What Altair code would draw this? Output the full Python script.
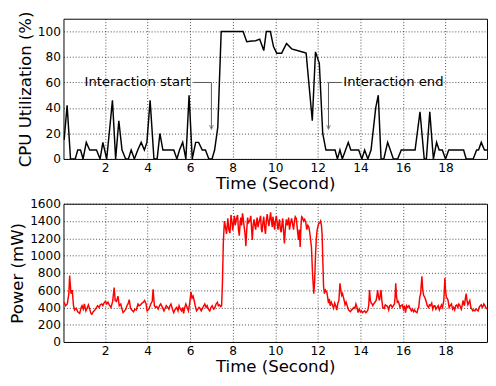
import altair as alt
import pandas as pd

# ---------------- data ----------------
cpu_t = [0.08, 0.22, 0.38, 0.6, 0.72, 0.85, 0.97, 1.12, 1.28, 1.6, 1.77, 1.9, 2.08,
         2.35, 2.5, 2.65, 2.8, 2.97, 3.1, 3.23, 3.38, 3.54, 3.7, 3.85, 3.97, 4.12,
         4.3, 4.45, 4.58, 4.72, 5.23, 5.38, 5.5, 5.65, 5.8, 5.95, 6.1, 6.26, 6.4,
         6.57, 6.72, 6.88, 7.03, 7.15, 7.3, 7.46, 8.49, 8.66, 8.9, 9.08, 9.27, 9.46,
         9.58, 9.77, 9.92, 10.07, 10.3, 10.53, 10.77, 11.2, 11.45, 11.74, 11.89,
         12.07, 12.23, 12.38, 12.81, 12.92, 13.04, 13.15, 13.43, 13.55, 13.92,
         14.07, 14.2, 14.35, 14.5, 14.72, 14.84, 14.97, 15.1, 15.28, 15.55, 15.75,
         15.92, 16.57, 16.8, 17.0, 17.1, 17.26, 17.43, 17.58, 17.7, 17.85, 18.0,
         18.15, 18.85, 18.97, 19.3, 19.46, 19.55, 19.68, 19.83, 19.95]
cpu_v = [15, 42, 0, 0, 7, 7, 0, 13, 7, 7, 0, 13, 0,
         46, 0, 30, 7, 0, 0, 7, 0, 7, 13, 7, 13, 46,
         0, 0, 20, 7, 7, 0, 7, 13, 0, 50, 0, 13, 13,
         7, 7, 0, 0, 7, 25, 100, 100, 92, 92.5, 92.7, 94, 85,
         100, 100, 88, 83, 83, 90.6, 86.4, 84.3, 83, 30, 84,
         75, 20, 7, 7, 0, 7, 0, 13, 7, 7,
         0, 7, 0, 7, 40, 50, 0, 0, 13, 0, 0,
         7, 7, 37, 0, 0, 37, 0, 13, 7, 7, 0,
         7, 7, 0, 0, 7, 7, 13, 7, 7]

pw_t = [0.08, 0.15, 0.23, 0.3, 0.34, 0.4, 0.46, 0.52, 0.57, 0.65, 0.72, 0.81, 0.88, 0.92, 0.98,
        1.03, 1.1, 1.17, 1.22, 1.28, 1.34, 1.38, 1.45, 1.52, 1.58, 1.65, 1.72, 1.78, 1.85, 1.9,
        1.95, 2.02, 2.08, 2.14, 2.2, 2.28, 2.36, 2.43, 2.48, 2.54, 2.61, 2.67, 2.74, 2.8, 2.85,
        2.92, 2.98, 3.03, 3.08, 3.14, 3.2, 3.26, 3.34, 3.4, 3.47, 3.55, 3.6, 3.67, 3.74, 3.8,
        3.86, 3.93, 3.98, 4.06, 4.15, 4.22, 4.26, 4.32, 4.38, 4.43, 4.5, 4.56, 4.62, 4.7, 4.77,
        4.83, 4.88, 4.95, 5.0, 5.05, 5.1, 5.17, 5.23, 5.3, 5.37, 5.43, 5.48, 5.54, 5.6, 5.66,
        5.69, 5.75, 5.8, 5.86, 5.92, 5.98, 6.04, 6.09, 6.14, 6.19, 6.23, 6.3, 6.36, 6.42, 6.46,
        6.52, 6.6, 6.69, 6.75, 6.8, 6.86, 6.92, 6.98, 7.04, 7.1, 7.15, 7.22, 7.28, 7.33, 7.38,
        7.44, 7.48, 7.52, 7.56, 7.61, 7.66, 7.71, 7.77, 7.82, 7.87, 7.92, 7.97, 8.0, 8.05, 8.08,
        8.12, 8.17, 8.23, 8.27, 8.31, 8.35, 8.38, 8.42, 8.46, 8.5, 8.54, 8.58, 8.62, 8.66, 8.7,
        8.74, 8.8, 8.85, 8.89, 8.92, 8.96, 9.0, 9.04, 9.08, 9.12, 9.15, 9.19, 9.23, 9.27, 9.31,
        9.35, 9.38, 9.42, 9.46, 9.5, 9.54, 9.58, 9.62, 9.66, 9.7, 9.74, 9.78, 9.82, 9.86, 9.89,
        9.93, 9.97, 10.01, 10.05, 10.09, 10.13, 10.17, 10.2, 10.24, 10.28, 10.32, 10.35, 10.4,
        10.43, 10.47, 10.52, 10.57, 10.63, 10.67, 10.72, 10.77, 10.81, 10.86, 10.9, 10.94,
        10.99, 11.04, 11.09, 11.13, 11.17, 11.21, 11.24, 11.28, 11.33, 11.38, 11.43, 11.48,
        11.53, 11.58, 11.63, 11.7, 11.75, 11.81, 11.85, 11.89, 11.93, 11.97, 12.0, 12.04,
        12.09, 12.13, 12.17, 12.2, 12.24, 12.27, 12.31, 12.36, 12.43, 12.5, 12.54, 12.58,
        12.63, 12.68, 12.74, 12.79, 12.84, 12.89, 12.94, 12.99, 13.04, 13.08, 13.12, 13.16,
        13.2, 13.24, 13.28, 13.33, 13.38, 13.43, 13.48, 13.53, 13.58, 13.63, 13.68, 13.74,
        13.79, 13.84, 13.89, 13.94, 14.0, 14.05, 14.1, 14.15, 14.2, 14.25, 14.3, 14.35, 14.39,
        14.43, 14.47, 14.51, 14.55, 14.58, 14.63, 14.68, 14.74, 14.78, 14.81, 14.85, 14.9,
        14.94, 14.97, 15.01, 15.05, 15.12, 15.17, 15.22, 15.28, 15.33, 15.38, 15.43, 15.5,
        15.55, 15.6, 15.63, 15.66, 15.7, 15.74, 15.78, 15.81, 15.86, 15.9, 15.97, 16.02,
        16.07, 16.12, 16.17, 16.22, 16.28, 16.35, 16.4, 16.45, 16.5, 16.55, 16.6, 16.66, 16.7,
        16.74, 16.79, 16.83, 16.89, 16.93, 16.97, 17.02, 17.05, 17.1, 17.14, 17.2, 17.24,
        17.29, 17.35, 17.4, 17.46, 17.5, 17.55, 17.6, 17.66, 17.71, 17.76, 17.81, 17.86,
        17.92, 17.97, 18.0, 18.04, 18.09, 18.12, 18.17, 18.22, 18.28, 18.33, 18.38, 18.43,
        18.48, 18.53, 18.58, 18.63, 18.68, 18.74, 18.78, 18.82, 18.86, 18.89, 18.93, 18.97,
        19.01, 19.05, 19.1, 19.14, 19.19, 19.24, 19.28, 19.33, 19.38, 19.43, 19.48, 19.53,
        19.58, 19.63, 19.68, 19.72, 19.76, 19.8, 19.85, 19.89, 19.94]
pw_v = [460, 420, 440, 560, 770, 560, 600, 420, 370, 390, 350, 330, 400, 420, 380,
        440, 360, 400, 430, 380, 330, 320, 350, 370, 390, 420, 400, 430, 440, 420,
        450, 470, 440, 460, 430, 400, 470, 630, 480, 470, 530, 420, 440, 380, 340,
        360, 380, 420, 440, 490, 390, 370, 350, 380, 370, 440, 420, 430, 450, 460,
        480, 440, 360, 380, 440, 470, 610, 420, 400, 410, 380, 420, 440, 400, 360,
        390, 420, 400, 380, 420, 440, 380, 340, 380, 400, 360, 420, 380, 360, 400,
        330, 400, 440, 400, 360, 450, 580, 510, 530, 480, 430, 360, 380, 400, 390,
        360, 400, 440, 400, 420, 380, 360, 400, 420, 380, 390, 440, 460, 420, 430,
        410, 420, 700, 1150, 1400, 1330, 1250, 1430, 1300, 1260, 1470, 1380, 1290, 1400, 1460,
        1350, 1420, 1470, 1300, 1230, 1380, 1440, 1350, 1490, 1420, 1330, 1250, 1110, 1300, 1440,
        1380, 1400, 1460, 1300, 1180, 1350, 1420, 1350, 1300, 1400, 1440, 1330, 1380, 1420, 1460,
        1300, 1270, 1380, 1450, 1330, 1250, 1400, 1480, 1400, 1340, 1420, 1500, 1400, 1330, 1450,
        1380, 1300, 1400, 1460, 1380, 1300, 1380, 1420, 1300, 1270, 1380, 1430, 1250,
        1140, 1300, 1420, 1350, 1440, 1300, 1380, 1430, 1370, 1300, 1400, 1450,
        1430, 1300, 1180, 1300, 1100, 1350, 1450, 1440, 1400, 1420, 1390, 1300,
        1350, 1330, 1250, 1100, 800, 560, 700, 1000, 1200, 1300, 1330, 1370,
        1380, 1400, 1350, 1250, 900, 640, 560, 600, 570, 450, 500, 420,
        460, 430, 390, 450, 420, 370, 450, 480, 680, 600, 540, 560,
        520, 480, 430, 460, 420, 380, 360, 350, 370, 380, 400, 390,
        440, 400, 340, 380, 350, 360, 340, 350, 360, 340, 350, 370, 420,
        600, 480, 450, 440, 420, 440, 460, 480, 540, 600, 520, 480,
        560, 600, 480, 400, 390, 430, 420, 410, 370, 420, 430, 400,
        420, 440, 520, 680, 520, 460, 470, 450, 400, 420, 430, 380,
        420, 340, 420, 400, 420, 380, 360, 380, 350, 370, 350, 340, 380,
        400, 520, 560, 760, 600, 540, 520, 500, 460, 420, 400, 430,
        420, 450, 380, 420, 420, 380, 400, 420, 370, 400, 430, 400,
        480, 740, 600, 520, 500, 480, 400, 420, 440, 380, 400, 370,
        420, 430, 400, 440, 420, 380, 420, 480, 440, 420, 500, 560,
        480, 430, 460, 480, 400, 380, 360, 370, 360, 380, 370, 360,
        400, 420, 430, 400, 410, 440, 420, 400, 380]

x_ticks = [2, 4, 6, 8, 10, 12, 14, 16, 18]
cpu_ticks = [0, 20, 40, 60, 80, 100]
pw_ticks = [0, 200, 400, 600, 800, 1000, 1200, 1400, 1600]

ann_text = ["Interaction start", "Interaction end"]
ann_text_x = [6.02, 13.2]
ann_text_y = [60, 60]
# annotation arrow segments (data coordinates)
seg_x = [6.15, 7.0, 12.5, 12.5]
seg_x2 = [7.0, 7.0, 13.1, 12.5]
seg_y = [60, 60, 60, 60]
seg_y2 = [60, 24, 60, 24]
head_x = [7.0, 12.5]
head_y = [23, 23]

# ---------------- chart ----------------
FONT = "DejaVu Sans"
cpu_df = pd.DataFrame({"t": cpu_t, "v": cpu_v})
pw_df = pd.DataFrame({"t": pw_t, "v": pw_v})
seg_df = pd.DataFrame({"x": seg_x, "x2": seg_x2, "y": seg_y, "y2": seg_y2})
head_df = pd.DataFrame({"x": head_x, "y": head_y})
ann_df = pd.DataFrame({"text": ann_text, "x": ann_text_x, "y": ann_text_y})

xs = alt.Scale(domain=[0.05, 19.95], nice=False, zero=False)
x_axis = alt.Axis(values=x_ticks, title="Time (Second)", format="d", labelOverlap=False)
cpu_y = alt.Scale(domain=[0, 110], nice=False)
cpu_axis = alt.Axis(values=cpu_ticks, title="CPU Utilization (%)", format="d",
                    labelOverlap=False)


def X(f):
    return alt.X(f, scale=xs, axis=x_axis)


def Y(f):
    return alt.Y(f, scale=cpu_y, axis=cpu_axis)


cpu_line = alt.Chart(cpu_df).mark_line(color="black", strokeWidth=1.5, clip=True).encode(
    x=X("t:Q"), y=Y("v:Q"))
segs = alt.Chart(seg_df).mark_rule(color="#555555", strokeWidth=1).encode(
    x=X("x:Q"), x2="x2:Q", y=Y("y:Q"), y2="y2:Q")
heads = alt.Chart(head_df).mark_point(
    shape="M-0.4,-1L0,0L0.4,-1", filled=False, size=90, color="#555555", strokeWidth=1
).encode(x=X("x:Q"), y=Y("y:Q"))
txt_start = alt.Chart(ann_df.iloc[[0]]).mark_text(
    font=FONT, fontSize=13.5, align="right", baseline="middle", color="black"
).encode(x=X("x:Q"), y=Y("y:Q"), text="text:N")
txt_end = alt.Chart(ann_df.iloc[[1]]).mark_text(
    font=FONT, fontSize=13.5, align="left", baseline="middle", color="black"
).encode(x=X("x:Q"), y=Y("y:Q"), text="text:N")

top = alt.layer(cpu_line, segs, heads, txt_start, txt_end).properties(width=435, height=144)

pw_line = alt.Chart(pw_df).mark_line(color="#ff0000", strokeWidth=1.5, clip=True).encode(
    x=X("t:Q"),
    y=alt.Y("v:Q", scale=alt.Scale(domain=[0, 1600], nice=False),
            axis=alt.Axis(values=pw_ticks, title="Power (mW)", format="d",
                          labelOverlap=False)),
)
bottom = pw_line.properties(width=435, height=142)

chart = alt.vconcat(top, bottom, spacing=5).properties(
    padding={"left": 0, "top": -3, "right": 0, "bottom": 0}
).configure_view(
    stroke="black", strokeWidth=1
).configure_axis(
    labelFont=FONT, labelFontSize=12.5, labelColor="black",
    titleFont=FONT, titleFontSize=17, titleFontWeight="normal", titleColor="black",
    domain=False, ticks=False, labelPadding=3, titlePadding=3,
    grid=True, gridColor="black", gridDash=[1, 2], gridWidth=0.8, gridOpacity=0.9,
).configure_axisX(titlePadding=2)

chart.save("out.html", embed_options={"renderer": "svg", "actions": False})
